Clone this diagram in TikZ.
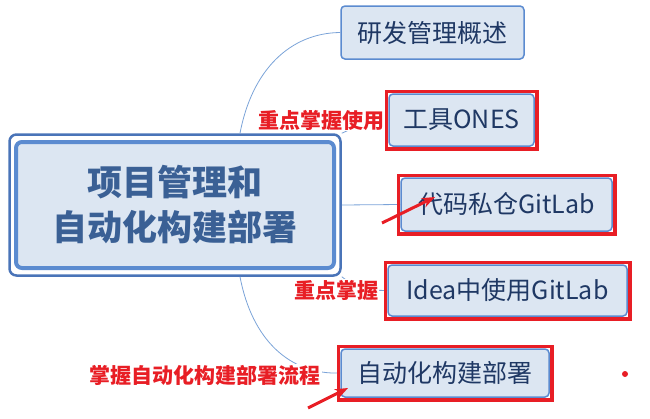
\documentclass[tikz,border=0pt]{standalone}
\usepackage{fontspec}
\setmainfont{Noto Sans CJK SC}
\usepackage{tikz}
\usetikzlibrary{arrows.meta,fit}
\definecolor{topicblue}{HTML}{5B8BD0}
\definecolor{topicfill}{HTML}{DCE6F2}
\definecolor{topictext}{HTML}{1F3864}
\definecolor{rootedge}{HTML}{4A74B8}
\definecolor{roottext}{HTML}{3A6095}
\definecolor{linkblue}{HTML}{7BA3D8}
\definecolor{markred}{HTML}{E81E25}

\begin{document}
\begin{tikzpicture}
         [x=1pt,y=-1pt,
          topic/.style={draw=topicblue,line width=1.5pt,rounded corners=4pt,fill=topicfill,
                        text=topictext,font=\fontsize{25}{30}\selectfont,inner sep=0pt},
          focus/.style={draw=markred,line width=3.5pt,inner sep=2pt},
          note/.style={text=markred,font=\fontsize{21}{24}\selectfont\bfseries,fill=white,inner sep=1pt},
          branch/.style={draw=linkblue,line width=0.8pt},
          pointer/.style={draw=markred,line width=3pt,-{Stealth[length=13pt,width=10pt]}}]
         \useasboundingbox (0,0) rectangle (650,418);

         % central topic
         \node (rootframe) [draw=rootedge,line width=2.5pt,rounded corners=7pt,
                            minimum width=331pt,minimum height=141pt] at (175,205) {};
         \node (root) [draw=topicblue,fill=topicfill,line width=4pt,rounded corners=6pt,
                       minimum width=318pt,minimum height=126pt,text=roottext,align=center,
                       font=\fontsize{35}{45}\selectfont\bfseries] at (175,205) {项目管理和\\自动化构建部署};

         % subtopics
         \node (overview) [topic,minimum width=183pt,minimum height=53pt] at (432.5,32.5) {研发管理概述};
         \node (ones) [topic,minimum width=145pt,minimum height=52pt] at (461.5,120) {工具ONES};
         \node (gitlab) [topic,minimum width=211pt,minimum height=53pt] at (506.5,204.5) {代码私仓GitLab};
         \node (idea) [topic,minimum width=239pt,minimum height=51pt] at (507.5,290.5) {Idea中使用GitLab};
         \node (deploy) [topic,minimum width=208pt,minimum height=48pt] at (445,373) {自动化构建部署};

         % branches
         \draw[branch] ([xshift=65pt]rootframe.north) .. controls (252,70) and (290,33) .. (overview.west);
         \draw[branch] (rootframe.north east) .. controls (360,125) .. (ones.west);
         \draw[branch] (rootframe.east) -- (gitlab.west);
         \draw[branch] (rootframe.south east) .. controls (360,290) .. (idea.west);
         \draw[branch] ([xshift=65pt]rootframe.south) .. controls (252,340) and (290,375) .. (deploy.west);

         % notes
         \node (noteones) [note] at (321,120) {重点掌握使用};
         \node (noteidea) [note] at (336,290) {重点掌握};
         \node (notedeploy) [note] at (205,375) {掌握自动化构建部署流程};

         % red frames
         \node (markones) [focus,fit=(ones)] {};
         \node (markgitlab) [focus,fit=(gitlab)] {};
         \node (markidea) [focus,fit=(idea)] {};
         \node (markdeploy) [focus,fit=(deploy)] {};

         % pointers
         \coordinate (tailgit) at (382,223);
         \coordinate (headgit) at (435,197);
         \coordinate (taildep) at (308,408);
         \coordinate (headdep) at (348,388);
         \draw[pointer] (tailgit) -- (headgit);
         \draw[pointer] (taildep) -- (headdep);

         \fill[markred] (625,374) circle (3);
      \end{tikzpicture}
\end{document}
